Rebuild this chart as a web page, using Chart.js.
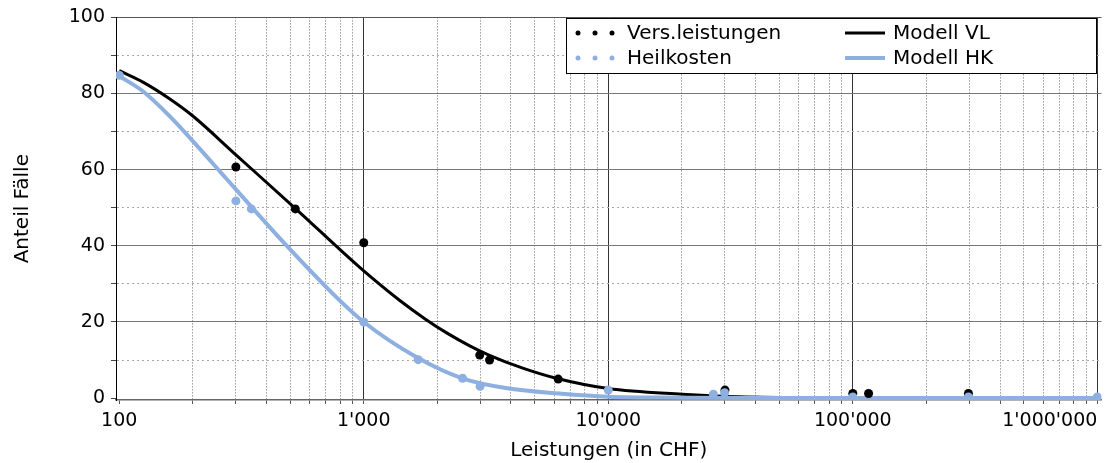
<!DOCTYPE html>
<html>
<head>
<meta charset="utf-8">
<script src="https://cdn.jsdelivr.net/npm/chart.js"></script>
<style>
  body { margin: 0; background: #fff; }
</style>
</head>
<body>
<canvas id="chart" width="1106" height="463"></canvas>
<script>
// Beobachtete Werte: Leistungen (CHF) und Anteil Fälle (%)
const versX = [300, 525, 1000, 2980, 3270, 6240, 30000, 100000, 116000, 297000];
const versY = [60.7, 49.7, 40.8, 11.3, 10, 5, 2.1, 1.2, 1.2, 1.2];
const heilX = [100, 300, 347, 1000, 1670, 2535, 2990, 10000, 26900, 29900, 100000, 297000, 1000000];
const heilY = [84.8, 51.8, 49.7, 20, 10.1, 5.2, 3.1, 2.1, 1, 1.4, 0.3, 0.3, 0.3];

// Modellkurven
const modVLX = [100, 125, 160, 200, 300, 530, 960, 1400, 1800, 2200, 2700, 3250, 4500, 6300, 10000, 20000, 29000, 50000, 100000, 1000000];
const modVLY = [86, 83, 78.7, 74.1, 63.9, 49.6, 34.4, 25.7, 20.6, 17.0, 13.8, 11.3, 7.8, 5.0, 2.5, 1.0, 0.5, 0.18, 0.05, 0];
const modHKX = [100, 125, 160, 200, 260, 305, 470, 770, 1000, 1640, 2530, 3930, 6300, 10000, 20000, 50000, 1000000];
const modHKY = [84.6, 80.6, 74.2, 67.5, 59.3, 54.3, 40.9, 26.6, 20.0, 10.8, 5.2, 2.5, 1.2, 0.35, 0.1, 0.02, 0];

// Achsen
const xLabels = [100, 1000, 10000, 100000, 1000000];
const yLabels = [0, 20, 40, 60, 80, 100];

const black = '#000000';
const blue = '#8eb0e0';
const font = 'DejaVu Sans';

function pts(xs, ys) {
  return xs.map((x, i) => ({ x: x, y: ys[i] }));
}

// 1000 -> 1'000
function fmt(v) {
  return String(v).replace(/\B(?=(\d{3})+(?!\d))/g, "'");
}

// Legende im Diagramm mit Rahmen
const boxLegend = {
  id: 'boxLegend',
  afterDraw(chart) {
    const c = chart.ctx;
    const ds = chart.data.datasets;
    c.save();
    c.fillStyle = '#fff';
    c.fillRect(566.5, 18.5, 530, 55);
    c.strokeStyle = '#000';
    c.lineWidth = 1;
    c.strokeRect(566.5, 18.5, 530, 55);
    c.font = '20px "' + font + '"';
    c.textBaseline = 'middle';
    const rows = [33, 58];
    // Punkte
    for (let r = 0; r < 2; r++) {
      const d = ds[r];
      c.fillStyle = d.backgroundColor;
      for (let k = 0; k < 3; k++) {
        c.beginPath();
        c.arc(578 + k * 17, rows[r], 2.5, 0, Math.PI * 2);
        c.fill();
      }
      c.fillStyle = '#000';
      c.fillText(d.label, 627, rows[r] + 1);
    }
    // Linien
    for (let r = 0; r < 2; r++) {
      const d = ds[r + 2];
      c.strokeStyle = d.borderColor;
      c.lineWidth = d.borderWidth;
      c.beginPath();
      c.moveTo(845, rows[r]);
      c.lineTo(885, rows[r]);
      c.stroke();
      c.fillStyle = '#000';
      c.fillText(d.label, 893, rows[r] + 1);
    }
    c.restore();
  }
};

const config = {
  type: 'line',
  data: {
    datasets: [
      {
        label: 'Vers.leistungen',
        data: pts(versX, versY),
        showLine: false,
        backgroundColor: black,
        borderColor: black,
        pointRadius: 4.5,
        pointBorderWidth: 0,
        order: 1
      },
      {
        label: 'Heilkosten',
        data: pts(heilX, heilY),
        showLine: false,
        backgroundColor: blue,
        borderColor: blue,
        pointRadius: 4.5,
        pointBorderWidth: 0,
        order: 0
      },
      {
        label: 'Modell VL',
        data: pts(modVLX, modVLY),
        borderColor: black,
        backgroundColor: black,
        borderWidth: 3,
        pointRadius: 0,
        cubicInterpolationMode: 'monotone',
        order: 3
      },
      {
        label: 'Modell HK',
        data: pts(modHKX, modHKY),
        borderColor: blue,
        backgroundColor: blue,
        borderWidth: 4,
        pointRadius: 0,
        cubicInterpolationMode: 'monotone',
        order: 2
      }
    ]
  },
  options: {
    responsive: false,
    animation: false,
    layout: { padding: { top: 16, right: 3, left: 0, bottom: 0 } },
    plugins: {
      legend: { display: false },
      tooltip: { enabled: false }
    },
    scales: {
      x: {
        type: 'logarithmic',
        min: 97,
        max: 1040000,
        afterBuildTicks(scale) {
          const t = [{ value: 97 }];
          for (const d of [100, 1000, 10000, 100000]) {
            for (let k = 1; k <= 9; k++) t.push({ value: d * k });
          }
          t.push({ value: 1000000 });
          scale.ticks = t;
        },
        afterFit(scale) {
          scale.height = 63;
          scale.paddingLeft = 0;
          scale.paddingRight = 0;
        },
        ticks: {
          autoSkip: false,
          maxRotation: 0,
          align: 'inner',
          padding: 6,
          color: '#000',
          font: { family: font, size: 19 },
          callback: (v) => xLabels.includes(v) ? fmt(v) : ''
        },
        grid: {
          tickLength: 4,
          color: (ctx) => {
            const v = ctx.tick ? ctx.tick.value : 0;
            if (v <= 100) return 'rgba(0,0,0,0)';
            return xLabels.includes(v) ? '#333' : '#666';
          },
          tickColor: (ctx) => (ctx.tick && ctx.tick.value < 100) ? 'rgba(0,0,0,0)' : '#555'
        },
        border: {
          color: '#666',
          width: 1.5,
          dash: (ctx) => (!ctx.tick || xLabels.includes(ctx.tick.value)) ? [] : [1, 2]
        },
        title: {
          display: true,
          text: 'Leistungen (in CHF)',
          color: '#000',
          font: { family: font, size: 20 },
          padding: { top: 0, bottom: 0 }
        }
      },
      y: {
        min: -0.5,
        max: 100,
        afterBuildTicks(scale) {
          const t = [];
          for (let v = 0; v <= 100; v += 10) t.push({ value: v });
          scale.ticks = t;
        },
        afterFit(scale) {
          scale.width = 116;
        },
        ticks: {
          autoSkip: false,
          padding: 6,
          color: '#000',
          font: { family: font, size: 19 },
          callback: (v) => yLabels.includes(v) ? String(v) : ''
        },
        grid: {
          tickLength: 5,
          color: (ctx) => {
            const v = ctx.tick ? ctx.tick.value : 0;
            if (v === 0) return 'rgba(0,0,0,0)';
            if (v === 100) return '#555';
            return yLabels.includes(v) ? '#777' : '#aaa';
          },
          tickColor: '#444'
        },
        border: {
          color: '#000',
          width: 1,
          dash: (ctx) => (!ctx.tick || yLabels.includes(ctx.tick.value)) ? [] : [2, 3]
        },
        title: {
          display: true,
          text: 'Anteil Fälle',
          color: '#000',
          font: { family: font, size: 20 },
          padding: { top: 11, bottom: 0 }
        }
      }
    }
  },
  plugins: [boxLegend]
};

const chart = new Chart(document.getElementById('chart'), config);
</script>
</body>
</html>
